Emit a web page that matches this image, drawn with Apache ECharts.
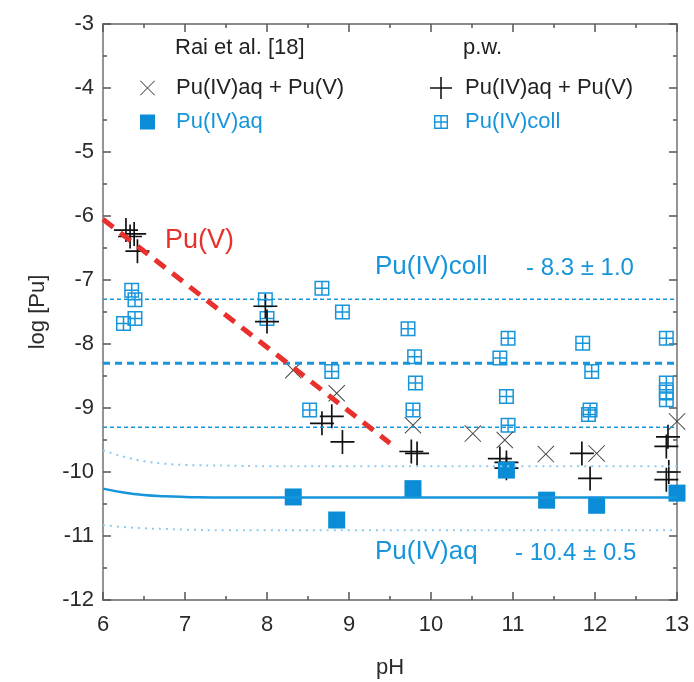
<!DOCTYPE html>
<html>
<head>
    <meta charset="utf-8">
    <title>log [Pu] vs pH</title>
    <script src="https://cdn.jsdelivr.net/npm/echarts@6/dist/echarts.min.js"></script>
</head>
<body style="margin:0">

<div id="main" style="width: 694px;height:682px;"></div>
<script type="text/javascript">
    // data: [pH, log Pu]
    var raiAqV = [[8.32, -8.41], [8.85, -8.77], [9.78, -9.27], [10.51, -9.40], [10.90, -9.50],
        [11.40, -9.72], [12.02, -9.71], [13.00, -9.21]];
    var raiAq = [[8.32, -10.39], [8.85, -10.75], [9.78, -10.26], [10.92, -9.97], [11.41, -10.44],
        [12.02, -10.52], [13.00, -10.33]];
    var pwAqV = [[6.28, -6.22], [6.38, -6.28], [6.33, -6.32], [6.42, -6.55], [7.98, -7.41], [8.00, -7.65],
        [8.67, -9.24], [8.79, -9.13], [8.92, -9.53], [9.76, -9.68], [9.83, -9.71],
        [10.84, -9.79], [10.92, -9.94], [10.92, -9.85], [11.84, -9.71], [11.94, -10.10],
        [12.89, -9.45], [12.87, -9.60], [12.90, -10.00], [12.87, -10.12]];
    var pwColl = [[6.35, -7.16], [6.39, -7.31], [6.25, -7.68], [6.39, -7.60], [7.98, -7.31], [8.00, -7.60],
        [8.67, -7.13], [8.92, -7.50], [8.79, -8.43], [8.52, -9.03], [9.72, -7.76], [9.80, -8.20],
        [9.81, -8.61], [9.78, -9.03], [10.94, -7.91], [10.84, -8.22], [10.92, -8.82], [10.94, -9.27],
        [11.85, -7.99], [11.96, -8.43], [11.94, -9.03], [11.92, -9.10], [12.87, -7.91], [12.87, -8.61],
        [12.87, -8.75], [12.87, -8.87]];

    var puVLine = [[6, -6.05], [9.5, -9.55]];
    var collMean = [[6, -8.3], [13, -8.3]];
    var collHigh = [[6, -7.3], [13, -7.3]];
    var collLow = [[6, -9.3], [13, -9.3]];
    var curveX = [6, 6.25, 6.5, 6.75, 7, 7.5, 8, 9, 10, 11, 12, 13];
    var aqMean = [-10.26, -10.32, -10.36, -10.38, -10.39, -10.40, -10.40, -10.40, -10.40, -10.40, -10.40, -10.40];
    var aqHigh = [-9.66, -9.76, -9.83, -9.87, -9.89, -9.90, -9.91, -9.91, -9.91, -9.91, -9.91, -9.91];
    var aqLow = [-10.83, -10.86, -10.88, -10.89, -10.90, -10.91, -10.91, -10.91, -10.91, -10.91, -10.91, -10.91];

    function pairs(ys) {
        var out = [];
        for (var i = 0; i < curveX.length; i++) out.push([curveX[i], ys[i]]);
        return out;
    }

    var blue = '#1795db';
    var red = '#e8302c';
    var font = 'Liberation Sans';

    var plusPath = 'path://M9.3,0L10.7,0L10.7,9.3L20,9.3L20,10.7L10.7,10.7L10.7,20L9.3,20L9.3,10.7L0,10.7L0,9.3L9.3,9.3Z';
    var crossPath = 'path://M0,0.8L0.8,0L10,9.2L19.2,0L20,0.8L10.8,10L20,19.2L19.2,20L10,10.8L0.8,20L0,19.2L9.2,10Z';
    var gridPath = 'path://M0,0L20,0L20,20L0,20Z M2,2L2,9L9,9L9,2Z M11,2L11,9L18,9L18,2Z M2,11L2,18L9,18L9,11Z M11,11L11,18L18,18L18,11Z';

    var myChart = echarts.init(document.getElementById('main'));

    function axisBase(pos, showLabel) {
        return {
            type: 'value',
            position: pos,
            axisLine: {show: true, onZero: false, lineStyle: {color: '#8a8a8a', width: 1.8}},
            axisTick: {show: true, inside: true, length: 8, lineStyle: {color: '#555', width: 1.5}},
            minorTick: {show: true, splitNumber: 2, length: 4, lineStyle: {color: '#555', width: 1.5}},
            splitLine: {show: false},
            axisLabel: {show: showLabel, color: '#2a2a2a', fontFamily: font, fontSize: 22},
            interval: 1
        };
    }

    var xBottom = axisBase('bottom', true);
    xBottom.min = 6; xBottom.max = 13;
    xBottom.name = 'pH';
    xBottom.nameLocation = 'middle';
    xBottom.nameGap = 57;
    xBottom.nameTextStyle = {color: '#2a2a2a', fontFamily: font, fontSize: 22};
    xBottom.axisLabel.margin = 14;
    var xTop = axisBase('top', false);
    xTop.min = 6; xTop.max = 13;

    var yLeft = axisBase('left', true);
    yLeft.min = -12; yLeft.max = -3;
    yLeft.name = 'log [Pu]';
    yLeft.nameLocation = 'middle';
    yLeft.nameGap = 54;
    yLeft.nameTextStyle = {color: '#2a2a2a', fontFamily: font, fontSize: 22};
    yLeft.axisLabel.margin = 9;
    var yRight = axisBase('right', false);
    yRight.min = -12; yRight.max = -3;

    function legendItem(left, top, name, label, icon, size, color, pad) {
        return {
            left: left, top: top, orient: 'vertical',
            itemWidth: size, itemHeight: size,
            data: [{name: name, icon: icon}],
            formatter: function () { return label; },
            textStyle: {color: color, fontFamily: font, fontSize: 22, padding: [0, 0, 0, pad]}
        };
    }

    var option = {
        animation: false,
        grid: {left: 103, right: 17, top: 24, bottom: 82, containLabel: false, outerBoundsMode: 'none'},
        xAxis: [xBottom, xTop],
        yAxis: [yLeft, yRight],
        legend: [
            legendItem(135, 72, 'raiAqV', 'Pu(IV)aq + Pu(V)', crossPath, 15, '#222', 16),
            legendItem(135, 106, 'raiAq', 'Pu(IV)aq', 'rect', 15, blue, 16),
            legendItem(425, 72, 'pwAqV', 'Pu(IV)aq + Pu(V)', plusPath, 22, '#222', 8),
            legendItem(429, 106, 'pwColl', 'Pu(IV)coll', gridPath, 14, blue, 12)
        ],
        graphic: [
            {type: 'text', left: 175, top: 37, style: {text: 'Rai et al. [18]', fill: '#222', font: '22px "Liberation Sans"'}},
            {type: 'text', left: 463, top: 37, style: {text: 'p.w.', fill: '#222', font: '22px "Liberation Sans"'}},
            {type: 'text', left: 165, top: 227, style: {text: 'Pu(V)', fill: red, font: '27px "Liberation Sans"'}},
            {type: 'text', left: 375, top: 254, style: {text: 'Pu(IV)coll', fill: blue, font: '26px "Liberation Sans"'}},
            {type: 'text', left: 526, top: 256, style: {text: '- 8.3 ± 1.0', fill: blue, font: '24px "Liberation Sans"'}},
            {type: 'text', left: 375, top: 539, style: {text: 'Pu(IV)aq', fill: blue, font: '26px "Liberation Sans"'}},
            {type: 'text', left: 515, top: 541, style: {text: '- 10.4 ± 0.5', fill: blue, font: '24px "Liberation Sans"'}}
        ],
        series: [
            {type: 'line', data: collHigh, symbol: 'none', silent: true,
                lineStyle: {color: blue, width: 1.5, type: [4, 3]}},
            {type: 'line', data: collMean, symbol: 'none', silent: true,
                lineStyle: {color: blue, width: 3, type: [7, 5]}},
            {type: 'line', data: collLow, symbol: 'none', silent: true,
                lineStyle: {color: blue, width: 1.5, type: [4, 3]}},
            {type: 'line', data: pairs(aqHigh), symbol: 'none', smooth: true, silent: true,
                lineStyle: {color: '#8ccaf0', width: 2, type: [2, 5]}},
            {type: 'line', data: pairs(aqLow), symbol: 'none', smooth: true, silent: true,
                lineStyle: {color: '#8ccaf0', width: 2, type: [2, 5]}},
            {type: 'line', data: pairs(aqMean), symbol: 'none', smooth: true, silent: true,
                lineStyle: {color: blue, width: 2.5}},
            {type: 'line', data: puVLine, symbol: 'none', silent: true,
                lineStyle: {color: red, width: 5, type: [13, 9]}},
            {name: 'pwColl', type: 'scatter', data: pwColl, symbol: gridPath, symbolSize: 15,
                itemStyle: {color: blue, opacity: 1}},
            {name: 'raiAqV', type: 'scatter', data: raiAqV, symbol: crossPath, symbolSize: 17,
                itemStyle: {color: '#444', opacity: 1}},
            {name: 'pwAqV', type: 'scatter', data: pwAqV, symbol: plusPath, symbolSize: 24,
                itemStyle: {color: '#111', opacity: 1}},
            {name: 'raiAq', type: 'scatter', data: raiAq, symbol: 'rect', symbolSize: 17,
                itemStyle: {color: '#0a8dd6', opacity: 1}}
        ]
    };
    myChart.setOption(option);
</script>
</body>
</html>
